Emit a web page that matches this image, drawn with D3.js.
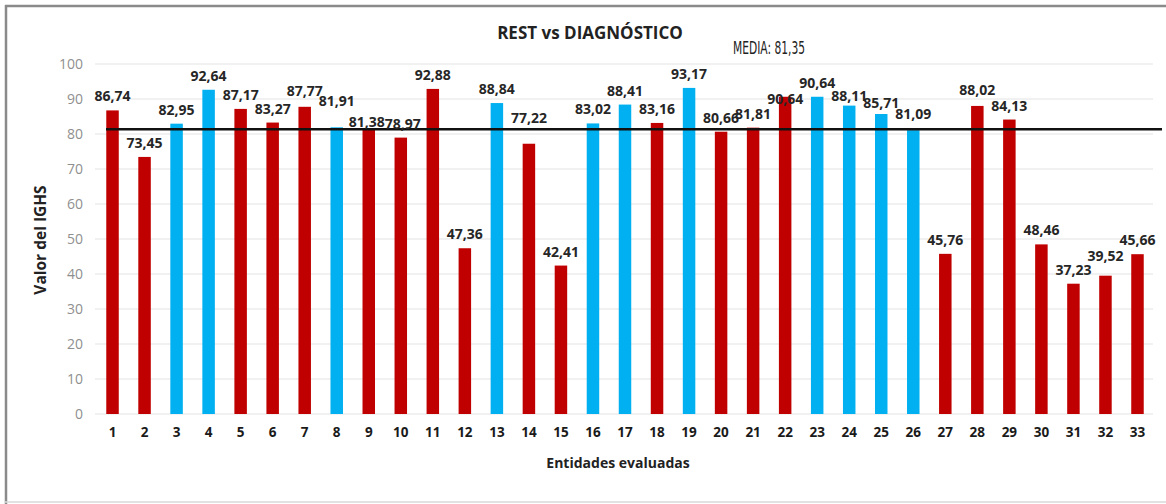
<!DOCTYPE html>
<html><head><meta charset="utf-8">
<script src="https://cdn.jsdelivr.net/npm/d3@7"></script>
<style>body{margin:0;background:#fff;}svg{display:block;font-family:"Open Sans",Arial,sans-serif;}</style>
</head><body>
<svg id="c" width="1166" height="504"></svg>
<script>
const categories = d3.range(1, 34).map(String);
const values = [86.74,73.45,82.95,92.64,87.17,83.27,87.77,81.91,81.38,78.97,92.88,47.36,88.84,77.22,42.41,83.02,88.41,83.16,93.17,80.66,81.81,90.64,90.64,88.11,85.71,81.09,45.76,88.02,84.13,48.46,37.23,39.52,45.66];
const groups = ["R","R","B","B","R","R","R","B","R","R","R","R","B","R","R","B","B","R","B","R","R","R","B","B","B","B","R","R","R","R","R","R","R"];
const yTicks = [0,10,20,30,40,50,60,70,80,90,100];
const mean = 81.35;
const title = "REST vs DIAGNÓSTICO";
const meanLabel = "MEDIA:  81,35";
const xTitle = "Entidades evaluadas";
const yTitle = "Valor del IGHS";

const svg = d3.select("#c");
const colors = {R:"#C00000", B:"#00B0F0"};
const fmt = v => v.toFixed(2).replace(".", ",");
// manually moved data labels (as in the original chart), nudges in px
const labelNudge = {"7":-2, "8":-12, "9":7, "14":-12, "22":16, "24":4, "25":3, "26":-2, "28":-2, "32":-6};
const labelShift = {"9":-2, "10":2};

// frame
svg.append("line").attr("x1",5).attr("x2",1166).attr("y1",6).attr("y2",6).attr("stroke","#8a8a8a").attr("stroke-width",2.5);
svg.append("line").attr("x1",6).attr("x2",6).attr("y1",5).attr("y2",504).attr("stroke","#8a8a8a").attr("stroke-width",2.5);
svg.append("line").attr("x1",5).attr("x2",1166).attr("y1",502).attr("y2",502).attr("stroke","#d8d8d8").attr("stroke-width",1.5);

const x = d3.scaleBand().domain(categories).range([96.5,1153.5]).paddingInner(0.61).paddingOuter(0.305);
const y = d3.scaleLinear().domain([0,100]).range([414,64]);

// grid
svg.append("g").selectAll("line").data(yTicks).join("line")
  .attr("x1",95).attr("x2",1153).attr("y1",d=>y(d)).attr("y2",d=>y(d))
  .attr("stroke","#e3e3e3").attr("stroke-width",1.2);

// y axis
const ya = svg.append("g").attr("transform","translate(83,0)")
  .call(d3.axisLeft(y).tickValues(yTicks).tickSize(0).tickPadding(0));
ya.select(".domain").remove();
ya.selectAll("text").attr("fill","#8f8f8f").style("font-size","14px").style("font-family","'Open Sans',sans-serif");

// bars
svg.append("g").selectAll("rect").data(values).join("rect")
  .attr("x",(d,i)=>x(categories[i])).attr("width",x.bandwidth())
  .attr("y",d=>y(d)).attr("height",d=>y(0)-y(d))
  .attr("fill",(d,i)=>colors[groups[i]]);

// x axis
const xa = svg.append("g").attr("transform","translate(0,427)")
  .call(d3.axisBottom(x).tickSize(0).tickPadding(0));
xa.select(".domain").remove();
xa.selectAll("text").attr("fill","#1a1a1a").style("font-size","13.5px").style("font-weight","bold").style("font-family","'Open Sans',sans-serif");

// mean line
svg.append("line").attr("x1",106).attr("x2",1162).attr("y1",y(mean)).attr("y2",y(mean))
  .attr("stroke","#111").attr("stroke-width",2.5);

// labels
svg.append("g").selectAll("text").data(values).join("text")
  .attr("x",(d,i)=>x(categories[i])+x.bandwidth()/2+(labelShift[categories[i]]||0))
  .attr("y",(d,i)=>y(d)-9+(labelNudge[categories[i]]||0))
  .attr("text-anchor","middle")
  .attr("fill","#262626").style("font-size","14px").style("font-weight","bold")
  .text(d=>fmt(d));

// titles
svg.append("text").attr("x",590).attr("y",39).attr("text-anchor","middle")
  .attr("fill","#222").style("font-size","17px").style("font-weight","bold").text(title);
svg.append("text").attr("x",733).attr("y",54)
  .attr("fill","#222").style("font-size","18px").style("font-family","'DejaVu Sans Condensed',sans-serif")
  .attr("transform","translate(733,54) scale(0.66,1) translate(-733,-54)").text(meanLabel);
svg.append("text").attr("x",618).attr("y",468).attr("text-anchor","middle")
  .attr("fill","#222").style("font-size","14px").style("font-weight","bold").text(xTitle);
svg.append("text").attr("transform","translate(46,240) rotate(-90)").attr("text-anchor","middle")
  .attr("fill","#222").style("font-size","15.5px").style("font-weight","bold").text(yTitle);
</script>
</body></html>
